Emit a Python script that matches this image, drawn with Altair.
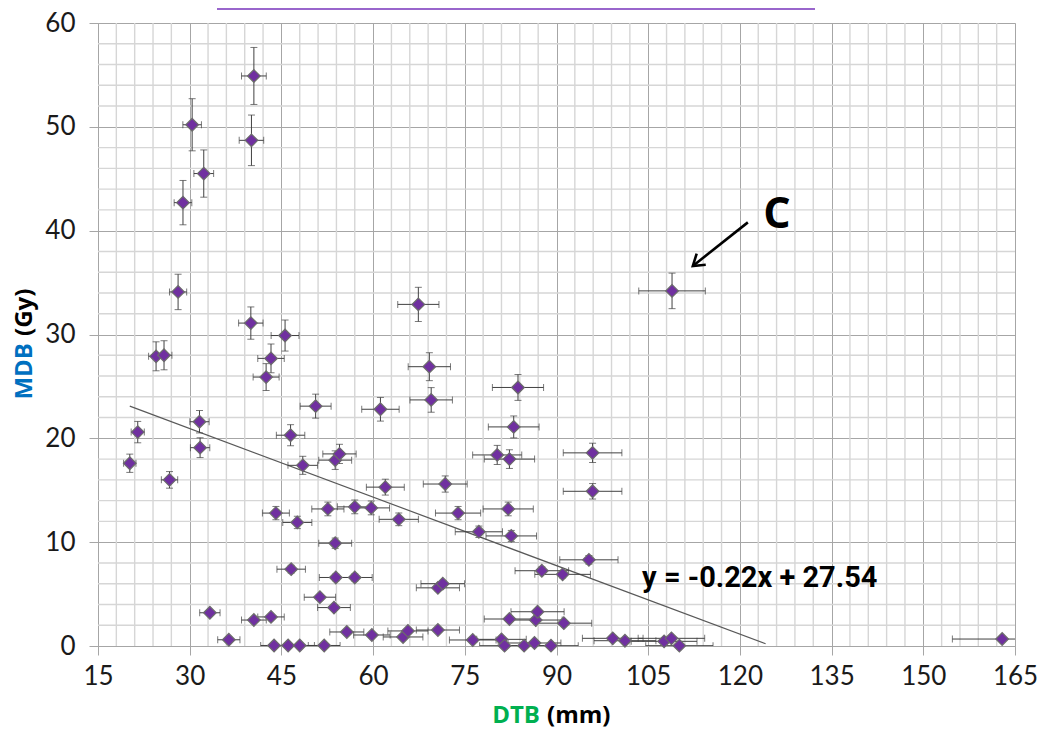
import altair as alt
import pandas as pd

# ---- data ----
dtb = [20.2, 21.5, 24.5, 25.8, 26.7, 28.1, 28.9, 30.4, 32.3, 31.6,
       31.7, 33.3, 36.4, 40.5, 40.1, 40.0, 40.5, 43.3, 45.6, 43.3,
       42.5, 46.5, 44.1, 47.6, 43.8, 46.1, 48.0, 46.6, 48.5, 50.6,
       51.3, 52.0, 52.6, 53.8, 54.5, 53.8, 53.9, 53.6, 55.7, 57.0,
       57.0, 59.7, 59.8, 61.2, 62.0, 64.2, 64.9, 65.7, 67.4, 69.2,
       69.5, 70.6, 71.4, 70.6, 71.8, 73.9, 76.3, 77.3, 80.3, 82.3,
       83.0, 83.7, 82.1, 82.6, 81.0, 81.5, 82.3, 84.7, 86.4, 86.6,
       86.9, 87.6, 89.1, 91.0, 91.2, 95.3, 95.9, 95.9, 99.2, 101.2,
       107.6, 108.8, 110.1, 108.9, 162.9]
mdb = [17.6, 20.6, 27.9, 28.0, 16.0, 34.1, 42.7, 50.2, 45.5, 21.6,
       19.1, 3.2, 0.6, 54.9, 48.7, 31.1, 2.5, 2.8, 29.9, 27.7,
       25.9, 20.3, 12.8, 11.9, 0.05, 0.05, 0.05, 7.4, 17.4, 23.1,
       4.7, 0.05, 13.2, 17.9, 18.5, 9.9, 6.6, 3.7, 1.35, 13.4,
       6.6, 13.3, 1.06, 22.8, 15.3, 12.2, 0.87, 1.45, 32.9, 26.9,
       23.7, 5.6, 6.0, 1.54, 15.6, 12.8, 0.58, 11.0, 18.4, 18.0,
       21.1, 24.9, 13.2, 10.6, 0.64, 0.03, 2.6, 0.03, 0.29, 2.5,
       3.3, 7.25, 0.03, 6.9, 2.2, 8.3, 18.6, 14.9, 0.74, 0.51,
       0.45, 0.74, 0.03, 34.2, 0.67]
rel_err = 0.05          # error bars are ~5 % of each value
slope, intercept = -0.22, 27.54
trend_x = [20.2, 124.2]

x_major = [15, 30, 45, 60, 75, 90, 105, 120, 135, 150, 165]
y_major = [0, 10, 20, 30, 40, 50, 60]
x_minor = [v for v in range(15, 166, 3) if v % 15]
y_minor = [v for v in range(0, 61, 2) if v % 10]

W, H = 917, 623
PURPLE = "#7030A0"
ERRC = "#404040"

pts = pd.DataFrame({"dtb": dtb, "mdb": mdb})
pts["xlo"] = pts.dtb * (1 - rel_err)
pts["xhi"] = pts.dtb * (1 + rel_err)
pts["ylo"] = pts.mdb * (1 - rel_err)
pts["yhi"] = pts.mdb * (1 + rel_err)

xcaps = pd.concat([pd.DataFrame({"x": pts.xlo, "y": pts.mdb}),
                   pd.DataFrame({"x": pts.xhi, "y": pts.mdb})])
ycaps = pd.concat([pd.DataFrame({"x": pts.dtb, "y": pts.ylo}),
                   pd.DataFrame({"x": pts.dtb, "y": pts.yhi})])
trend = pd.DataFrame({"x": trend_x, "y": [slope * v + intercept for v in trend_x]})

xs = alt.Scale(domain=[15, 165], nice=False, zero=False)
ys = alt.Scale(domain=[0, 60], nice=False, zero=False)

xaxis = alt.Axis(values=x_major, grid=True, gridColor="#a6a6a6", gridWidth=1,
                 tickSize=9, tickColor="#a6a6a6", domainColor="#a6a6a6",
                 labelFont="Lato", labelFontSize=26, labelColor="#1a1a1a",
                 labelPadding=8, title=None, labelFlush=False)
yaxis = alt.Axis(values=y_major, grid=True, gridColor="#a6a6a6", gridWidth=1,
                 tickSize=9, tickColor="#a6a6a6", domainColor="#a6a6a6",
                 labelFont="Lato", labelFontSize=26, labelColor="#1a1a1a",
                 labelPadding=14, title=None, labelFlush=False)


def X(f):
    return alt.X(f, scale=xs, axis=xaxis)


def Y(f):
    return alt.Y(f, scale=ys, axis=yaxis)


vminor = alt.Chart(pd.DataFrame({"v": x_minor})).mark_rule(
    color="#d6d6d6", strokeWidth=1.4).encode(x=X("v:Q"))
hminor = alt.Chart(pd.DataFrame({"v": y_minor})).mark_rule(
    color="#d6d6d6", strokeWidth=1.4).encode(y=Y("v:Q"))

hbar = alt.Chart(pts).mark_rule(color=ERRC, strokeWidth=1, clip=True).encode(
    x=X("xlo:Q"), x2="xhi:Q", y=Y("mdb:Q"))
vbar = alt.Chart(pts).mark_rule(color=ERRC, strokeWidth=1).encode(
    x=X("dtb:Q"), y=Y("ylo:Q"), y2="yhi:Q")
xcap = alt.Chart(xcaps).mark_tick(orient="vertical", size=7, thickness=1, color=ERRC,
                                  clip=True).encode(x=X("x:Q"), y=Y("y:Q"))
ycap = alt.Chart(ycaps).mark_tick(orient="horizontal", size=7, thickness=1, color=ERRC).encode(
    x=X("x:Q"), y=Y("y:Q"))

trend_line = alt.Chart(trend).mark_line(color="#595959", strokeWidth=1.2).encode(
    x=X("x:Q"), y=Y("y:Q"))

diamonds = alt.Chart(pts).mark_point(
    shape="diamond", filled=True, size=160, fill=PURPLE, stroke="#6b6b6b",
    strokeWidth=1.2, opacity=1).encode(x=X("dtb:Q"), y=Y("mdb:Q"))

eq_text = alt.Chart(pd.DataFrame({"x": [104.0], "y": [5.7],
                                  "t": ["y = -0.22x + 27.54"]})).mark_text(
    align="left", baseline="alphabetic", font="Roboto", fontWeight="bold",
    fontSize=29, color="#000000").encode(x=X("x:Q"), y=Y("y:Q"), text="t:N")

c_text = alt.Chart(pd.DataFrame({"x": [123.8], "y": [40.3], "t": ["C"]})).mark_text(
    align="left", baseline="alphabetic", font="Open Sans", fontWeight="bold",
    fontSize=43, color="#000000").encode(x=X("x:Q"), y=Y("y:Q"), text="t:N")

arrow_df = pd.DataFrame({"x": [121.3], "y": [40.8], "x2": [112.3], "y2": [36.6]})
arrow_line = alt.Chart(arrow_df).mark_rule(color="#000000", strokeWidth=2.6).encode(
    x=X("x:Q"), y=Y("y:Q"), x2="x2:Q", y2="y2:Q")
arrow_head = alt.Chart(arrow_df).mark_point(
    shape="M -0.6 0.9 L 0 0 L 0.6 0.9", size=576, filled=False, stroke="#000000",
    strokeWidth=2.6, angle=231, opacity=1).encode(x=X("x2:Q"), y=Y("y2:Q"))

one = pd.DataFrame({"a": [0]})
ttl_font = dict(font="Open Sans", fontWeight="bold", fontSize=24)
y_t1 = alt.Chart(one).mark_text(text="MDB", angle=270, align="right", baseline="middle",
                                color="#0070C0", **ttl_font).encode(
    x=alt.value(-73), y=alt.value(320))
y_t2 = alt.Chart(one).mark_text(text="(Gy)", angle=270, align="left", baseline="middle",
                                color="#000000", **ttl_font).encode(
    x=alt.value(-73), y=alt.value(313))
x_t1 = alt.Chart(one).mark_text(text="DTB", align="right", baseline="middle",
                                color="#00B050", **ttl_font).encode(
    x=alt.value(442), y=alt.value(693))
x_t2 = alt.Chart(one).mark_text(text="(mm)", align="left", baseline="middle",
                                color="#000000", **ttl_font).encode(
    x=alt.value(449), y=alt.value(693))
top_line = alt.Chart(one).mark_rule(color="#9966CC", strokeWidth=2).encode(
    x=alt.value(119), x2=alt.value(717), y=alt.value(-14))

chart = alt.layer(
    vminor, hminor, trend_line, hbar, vbar, xcap, ycap, diamonds,
    eq_text, c_text, arrow_line, arrow_head, y_t1, y_t2, x_t1, x_t2, top_line
).properties(
    width=W, height=H,
    autosize=alt.AutoSizeParams(type="none"),
    padding={"left": 90, "top": 15, "right": 35, "bottom": 90},
).configure_view(stroke=None).configure(background="white")

chart.save("out.html", embed_options={"renderer": "svg", "actions": False})
